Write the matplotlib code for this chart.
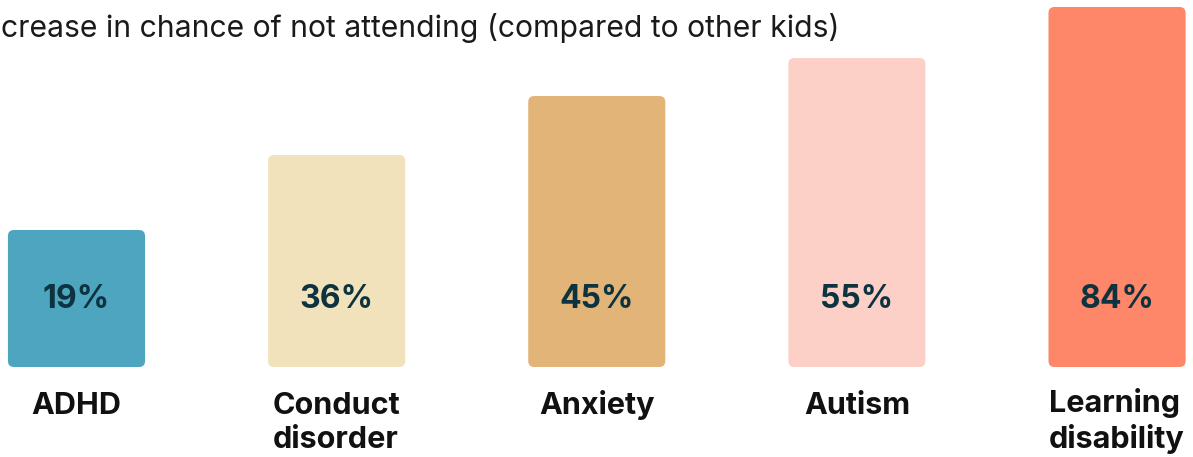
import numpy as np
import matplotlib.pyplot as plt
from matplotlib.patches import FancyBboxPatch

plt.rcParams['font.family'] = ['Inter', 'DejaVu Sans']

# data
categories = ['ADHD', 'Conduct\ndisorder', 'Anxiety', 'Autism', 'Learning\ndisability']
values = [19, 36, 45, 55, 84]                 # % increase, shown as labels
bar_heights = [137, 212, 271, 309, 360]       # drawn height of each bar (not to scale in source)
colors = ['#4ea5bf', '#f2e2bb', '#e2b477', '#fdd0c7', '#fe8669']

# the source crops the first word of the heading at the left edge
title = 'crease in chance of not attending (compared to other kids)'

fig = plt.figure(figsize=(11.93, 4.57), dpi=100)
ax = fig.add_axes([0, 0, 1, 1])
ax.set_xlim(-0.294, 4.292)
ax.set_ylim(-90, 367)
ax.axis('off')

x = np.arange(len(categories))
bars = ax.bar(x, bar_heights, width=0.527, color=colors)

# swap the square bars for rounded ones
xunit = 1193 / (4.292 + 0.294)
for b, c in zip(bars, colors):
    bx, by = b.get_x(), b.get_y()
    w, h = b.get_width(), b.get_height()
    b.remove()
    p = FancyBboxPatch((bx, by), w, h,
                       boxstyle='round,pad=0,rounding_size=%f' % (6 / xunit),
                       mutation_aspect=xunit, fc=c, ec='none')
    ax.add_patch(p)

for xi, v in zip(x, values):
    ax.text(xi, 67, '%d%%' % v, ha='center', va='center',
            fontsize=23, fontweight='bold', color='#0d3340')

# baseline va puts the LAST line on y, so push multi-line labels down
for xi, cat in zip(x, categories):
    nl = cat.count('\n')
    ax.text(xi, -47 - 34 * nl, cat, ha='center', va='baseline', fontsize=22,
            fontweight='bold', color='#111111', linespacing=1.25,
            multialignment='left')

ax.text(0.001, 367 - 28, title, ha='left', va='center',
        fontsize=21.7, color='#1a1a1a', transform=ax.get_yaxis_transform())

fig.savefig('out.png', dpi=100)
